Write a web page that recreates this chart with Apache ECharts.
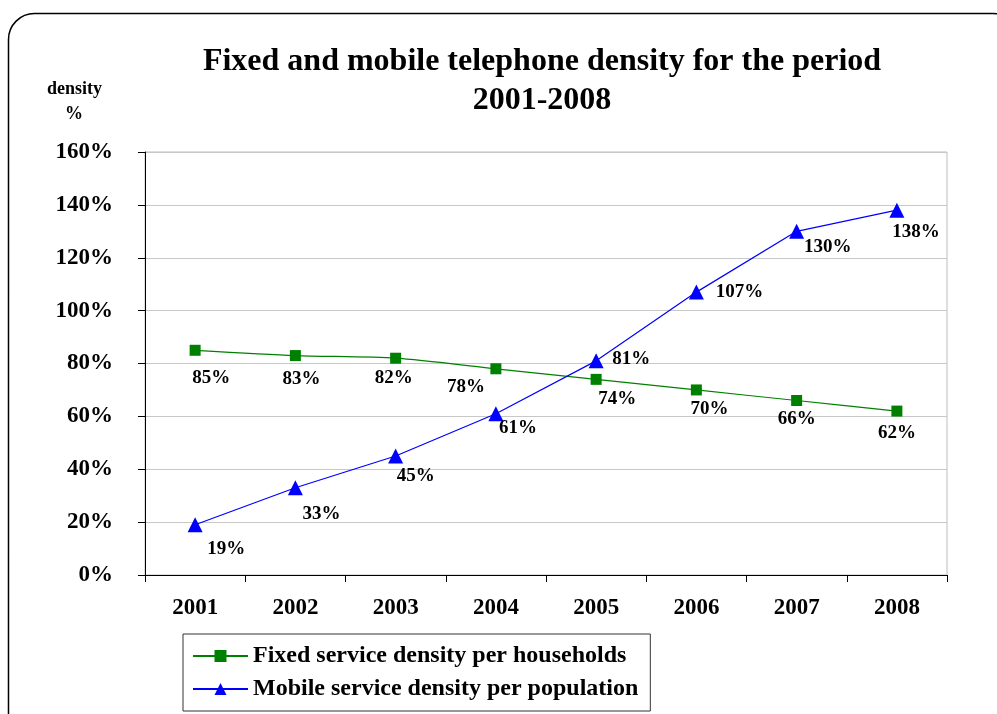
<!DOCTYPE html>
<html>
<head>
<meta charset="utf-8">
<script src="https://cdn.jsdelivr.net/npm/echarts@6/dist/echarts.min.js"></script>
<style>
  html, body { margin: 0; padding: 0; background: #fff; }
  #chart { width: 997px; height: 714px; }
</style>
</head>
<body>
<div id="chart"></div>
<script>
// Years on the category axis
const years = ['2001', '2002', '2003', '2004', '2005', '2006', '2007', '2008'];
// Fixed line density per households, %
const fixedDensity = [85, 83, 82, 78, 74, 70, 66, 62];
// Mobile density per population, %
const mobileDensity = [19, 33, 45, 61, 81, 107, 130, 138];
// Value axis ticks, %
const yTicks = [0, 20, 40, 60, 80, 100, 120, 140, 160];

const FONT = '"Liberation Serif", "Times New Roman", serif';

// Nudges for the value labels so they sit clear of the lines
const fixedLabelShift = [[16, 28], [6, 24], [-2, 20], [-30, 18], [21, 20], [13, 19], [0, 19], [0, 22]];
const mobileLabelShift = [[31, 24], [26, 26], [20, 20], [22, 14], [35, -2], [43, 0], [31, 16], [19, 22]];

function withLabels(values, shifts) {
  return values.map((v, i) => ({
    value: v,
    label: { offset: shifts[i] }
  }));
}

const labelStyle = {
  show: true,
  position: 'inside',
  formatter: '{c}%',
  color: '#000',
  fontFamily: FONT,
  fontWeight: 'bold',
  fontSize: 19
};

const chart = echarts.init(document.getElementById('chart'), null, { renderer: 'canvas' });

chart.setOption({
  backgroundColor: '#fff',
  animation: false,
  title: {
    text: 'Fixed and mobile telephone density for the period\n2001-2008',
    left: 537,
    textAlign: 'center',
    top: 37,
    textStyle: {
      fontFamily: FONT,
      fontWeight: 'bold',
      fontSize: 32,
      lineHeight: 39,
      color: '#000'
    }
  },
  graphic: [
    {
      type: 'rect',
      shape: { x: 8.5, y: 13.5, width: 1010, height: 730, r: 26 },
      style: { fill: 'none', stroke: '#000', lineWidth: 1.5 },
      silent: true,
      z: -1
    },
    {
      type: 'text',
      left: 47,
      top: 77,
      style: {
        text: 'density\n    %',
        fontFamily: FONT,
        fontWeight: 'bold',
        fontSize: 18,
        lineHeight: 25,
        fill: '#000'
      }
    }
  ],
  grid: {
    left: 145,
    right: 50,
    top: 152,
    bottom: 139,
    show: true,
    borderColor: '#bdbdbd',
    borderWidth: 1,
    backgroundColor: 'transparent'
  },
  legend: {
    orient: 'vertical',
    left: 183,
    top: 634,
    itemWidth: 55,
    itemHeight: 15,
    itemGap: 9,
    padding: [10, 12, 10, 9],
    borderColor: '#333',
    borderWidth: 1,
    textStyle: {
      fontFamily: FONT,
      fontWeight: 'bold',
      fontSize: 24,
      color: '#000'
    },
    data: ['Fixed service density per households', 'Mobile service density per population']
  },
  xAxis: {
    type: 'category',
    data: years,
    boundaryGap: true,
    axisLine: { lineStyle: { color: '#000', width: 1 } },
    axisTick: { show: true, length: 7, lineStyle: { color: '#000' } },
    axisLabel: {
      margin: 22,
      fontFamily: FONT,
      fontWeight: 'bold',
      fontSize: 23,
      color: '#000'
    },
    splitLine: { show: false }
  },
  yAxis: {
    type: 'value',
    min: yTicks[0],
    max: yTicks[yTicks.length - 1],
    interval: yTicks[1] - yTicks[0],
    axisLine: { show: true, lineStyle: { color: '#000', width: 1 } },
    axisTick: { show: true, length: 7, lineStyle: { color: '#000' } },
    axisLabel: {
      margin: 32,
      formatter: '{value}%',
      fontFamily: FONT,
      fontWeight: 'bold',
      fontSize: 23,
      padding: [5, 0, 0, 0],
      color: '#000'
    },
    splitLine: { show: true, lineStyle: { color: '#c8c8c8', width: 1 } }
  },
  series: [
    {
      name: 'Fixed service density per households',
      type: 'line',
      data: withLabels(fixedDensity, fixedLabelShift),
      smooth: 0.25,
      symbol: 'rect',
      symbolSize: 11,
      color: '#008000',
      lineStyle: { color: '#008000', width: 1.2 },
      itemStyle: { color: '#008000' },
      label: labelStyle,
      z: 3
    },
    {
      name: 'Mobile service density per population',
      type: 'line',
      data: withLabels(mobileDensity, mobileLabelShift),
      symbol: 'triangle',
      symbolSize: 15,
      color: '#0000ff',
      lineStyle: { color: '#0000ff', width: 1.2 },
      itemStyle: { color: '#0000ff' },
      label: labelStyle,
      z: 4
    }
  ]
});
</script>
</body>
</html>
